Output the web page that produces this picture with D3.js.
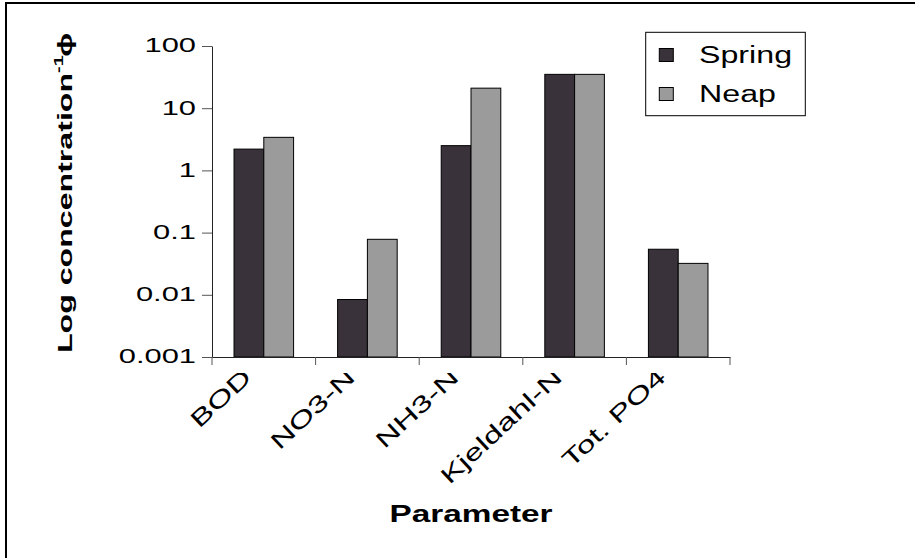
<!DOCTYPE html>
<html>
<head>
<meta charset="utf-8">
<script src="https://cdn.jsdelivr.net/npm/d3@7"></script>
<style>
  body { margin: 0; background: #fff; }
  text { font-family: "Liberation Sans", Arial, sans-serif; fill: #000; }
</style>
</head>
<body>
<svg id="chart" width="915" height="558"></svg>
<script>
// data
const categories = ['BOD', 'NO3-N', 'NH3-N', 'Kjeldahl-N', 'Tot. PO4']
const series = ['Spring', 'Neap']
const spring = [2.2, 0.0084, 2.5, 35, 0.054]
const neap = [3.4, 0.078, 21, 35, 0.032]
const yTicks = [0.001, 0.01, 0.1, 1, 10, 100]
const yTickLabels = ['0.001', '0.01', '0.1', '1', '10', '100']

const W = 915, H = 558
const margin = {top: 46, right: 185, bottom: 201, left: 212}
const iw = W - margin.left - margin.right
const ih = H - margin.top - margin.bottom
// the text in the original is drawn wide, stretch it along its baseline
const STRETCH = 1.47

const svg = d3.select('#chart')

// outer frame, only top and left edges fall inside the picture
svg.append('rect')
  .attr('x', 6).attr('y', 3)
  .attr('width', W + 20).attr('height', H + 20)
  .attr('fill', 'none')
  .attr('stroke', '#000')
  .attr('stroke-width', 2)

const g = svg.append('g')
  .attr('transform', `translate(${margin.left},${margin.top})`)

const x0 = d3.scaleBand().domain(categories).range([0, iw])
const groupW = x0.bandwidth() * 0.575
const groupOff = (x0.bandwidth() - groupW) / 2
const x1 = d3.scaleBand().domain(series).range([groupOff, groupOff + groupW])
const y = d3.scaleLog().domain([0.001, 100]).range([ih, 0])
const color = d3.scaleOrdinal().domain(series).range(['#3a323a', '#9b9b9b'])

const rows = categories.map((c, i) => ({
  cat: c,
  values: [{key: 'Spring', v: spring[i]}, {key: 'Neap', v: neap[i]}]
}))

// bars
g.selectAll('.group')
  .data(rows)
  .join('g')
  .attr('class', 'group')
  .attr('transform', (d) => `translate(${x0(d.cat)},0)`)
  .selectAll('rect')
  .data((d) => d.values)
  .join('rect')
  .attr('x', (d) => x1(d.key))
  .attr('width', x1.bandwidth())
  .attr('y', (d) => y(d.v))
  .attr('height', (d) => y(0.001) - y(d.v))
  .attr('fill', (d) => color(d.key))
  .attr('stroke', '#000')
  .attr('stroke-width', 1)

// y axis
const yAxis = g.append('g')
  .call(d3.axisLeft(y)
    .tickValues(yTicks)
    .tickFormat((d, i) => yTickLabels[i])
    .tickSize(10)
    .tickSizeOuter(0))
yAxis.select('.domain').attr('stroke', '#222')
yAxis.selectAll('.tick line').attr('stroke', '#555')
yAxis.selectAll('.tick text')
  .attr('font-family', '"Liberation Sans", Arial, sans-serif')
  .attr('font-size', 21)
  .attr('x', -16 / STRETCH)
  .attr('dy', '0.28em')
  .attr('transform', `scale(${STRETCH},1)`)

// x axis: a plain line, ticks on the band edges
g.append('g')
  .attr('transform', `translate(0,${ih})`)
  .call(d3.axisBottom(x0).tickSize(0).tickSizeOuter(0).tickFormat(''))
  .select('.domain').attr('stroke', '#222')

const edges = categories.map((c) => x0(c)).concat([x0.range()[1]])
g.selectAll('.edge')
  .data(edges)
  .join('line')
  .attr('class', 'edge')
  .attr('x1', (d) => d).attr('x2', (d) => d)
  .attr('y1', ih).attr('y2', ih + 8)
  .attr('stroke', '#555')

// rotated category labels, clipped at the top like the original
g.append('clipPath')
  .attr('id', 'labclip')
  .append('rect')
  .attr('x', -80).attr('y', ih + 16)
  .attr('width', iw + 160).attr('height', 200)

g.append('g')
  .attr('clip-path', 'url(#labclip)')
  .selectAll('text')
  .data(categories)
  .join('text')
  .attr('text-anchor', 'end')
  .attr('font-size', 23)
  .attr('transform', (d) => `translate(${x0(d) + x0.bandwidth() / 2 - 11},${ih + 22}) rotate(-43) scale(${STRETCH},1)`)
  .text((d) => d)

// axis titles
svg.append('text')
  .attr('text-anchor', 'middle')
  .attr('font-size', 23)
  .attr('font-weight', 'bold')
  .attr('transform', `translate(${margin.left + iw / 2},521.5) scale(${STRETCH - 0.02},1)`)
  .text('Parameter')

const ylab = svg.append('text')
  .attr('font-size', 21)
  .attr('font-weight', 'bold')
  .attr('transform', `translate(72,353) rotate(-90) scale(1.53,1)`)
ylab.append('tspan').text('Log concentration')
ylab.append('tspan').attr('font-size', 13).attr('dy', -9).text('-1')
ylab.append('tspan').attr('dy', 9).attr('dx', -1).text('ɸ')

// legend
const legend = svg.append('g').attr('transform', 'translate(645.7,32.3)')
legend.append('rect')
  .attr('width', 159.6).attr('height', 83.4)
  .attr('fill', '#fff')
  .attr('stroke', '#000')

const item = legend.selectAll('.item')
  .data(series)
  .join('g')
  .attr('class', 'item')
  .attr('transform', (d, i) => `translate(13.6,${16.2 + i * 39})`)
item.append('rect')
  .attr('width', 14).attr('height', 13)
  .attr('fill', (d) => color(d))
  .attr('stroke', '#000')
item.append('text')
  .attr('font-size', 23)
  .attr('transform', `translate(39.7,14.6) scale(${STRETCH - 0.07},1)`)
  .text((d) => d)
</script>
</body>
</html>
